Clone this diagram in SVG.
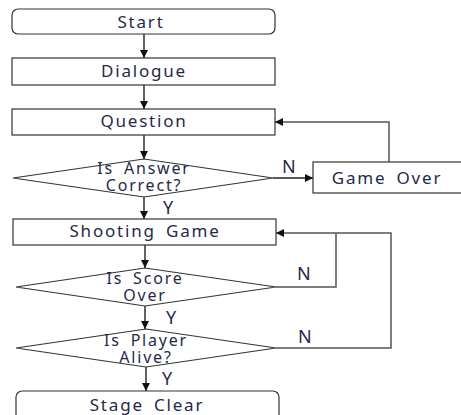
<svg xmlns="http://www.w3.org/2000/svg" width="461" height="415" viewBox="0 0 461 415">
<style>
.box{fill:#fff;stroke:#333;stroke-width:1.2}
.t{font-family:"Noto Sans","Open Sans",sans-serif;font-size:17px;fill:#1f2a48;text-anchor:middle;letter-spacing:1.8px;word-spacing:4px}
.d{font-size:16px}
.lbl{font-family:"Noto Sans","Open Sans",sans-serif;font-size:18px;fill:#1f2a48}
.c{fill:none;stroke:#222;stroke-width:1.4}
.f{fill:none;stroke:#555;stroke-width:1.5}
</style>
<defs>
<marker id="ah" markerWidth="10" markerHeight="10" refX="9" refY="5" orient="auto" markerUnits="userSpaceOnUse">
<path d="M1,1 L9,5 L1,9 z" fill="#111"/>
</marker>
</defs>
<rect width="461" height="415" fill="#fff"/>
<g id="connectors">
<line class="c" x1="144" y1="34" x2="144" y2="58" marker-end="url(#ah)"/>
<line class="c" x1="144" y1="85" x2="144" y2="109" marker-end="url(#ah)"/>
<line class="c" x1="144" y1="135" x2="144" y2="159" marker-end="url(#ah)"/>
<line class="c" x1="273" y1="178" x2="313" y2="178" marker-end="url(#ah)"/>
<polyline class="f" points="389,162 389,122 275,122" marker-end="url(#ah)"/>
<line class="c" x1="144" y1="197" x2="144" y2="219" marker-end="url(#ah)"/>
<line class="c" x1="145" y1="245" x2="145" y2="268" marker-end="url(#ah)"/>
<polyline class="f" points="276,287 336,287 336,233"/>
<polyline class="f" points="276,348 391,348 391,233 276,233" marker-end="url(#ah)"/>
<line class="c" x1="145" y1="306" x2="145" y2="329" marker-end="url(#ah)"/>
<line class="c" x1="146" y1="367" x2="146" y2="391" marker-end="url(#ah)"/>
<text class="lbl" x="282" y="173">N</text>
<text class="lbl" x="163" y="214">Y</text>
<text class="lbl" x="297" y="280">N</text>
<text class="lbl" x="166" y="324">Y</text>
<text class="lbl" x="298" y="343">N</text>
<text class="lbl" x="162" y="385">Y</text>
</g>
<g id="start">
<rect class="box" x="12" y="9" width="263" height="25" rx="6"/>
<text class="t" x="141" y="28">Start</text>
</g>
<g id="dialogue">
<rect class="box" x="12" y="58" width="263" height="27"/>
<text class="t" x="144" y="77">Dialogue</text>
</g>
<g id="question">
<rect class="box" x="12" y="109" width="263" height="26"/>
<text class="t" x="144" y="127">Question</text>
</g>
<g id="answer-correct">
<polygon class="box" points="13,178 144,159 273,178 144,197"/>
<text class="t d" x="144" y="174">Is Answer</text>
<text class="t d" x="144" y="191">Correct?</text>
</g>
<g id="game-over">
<rect class="box" x="313" y="162" width="155" height="31"/>
<text class="t" x="387" y="184">Game Over</text>
</g>
<g id="shooting-game">
<rect class="box" x="13" y="219" width="263" height="26"/>
<text class="t" x="145" y="237">Shooting Game</text>
</g>
<g id="score-over">
<polygon class="box" points="16,287 145,268 276,287 145,306"/>
<text class="t d" x="145" y="284">Is Score</text>
<text class="t d" x="145" y="301">Over</text>
</g>
<g id="player-alive">
<polygon class="box" points="16,348 146,329 276,348 146,367"/>
<text class="t d" x="146" y="346">Is Player</text>
<text class="t d" x="146" y="363">Alive?</text>
</g>
<g id="stage-clear">
<rect class="box" x="16" y="391" width="263" height="34" rx="6"/>
<text class="t" x="147" y="411">Stage Clear</text>
</g>
</svg>
